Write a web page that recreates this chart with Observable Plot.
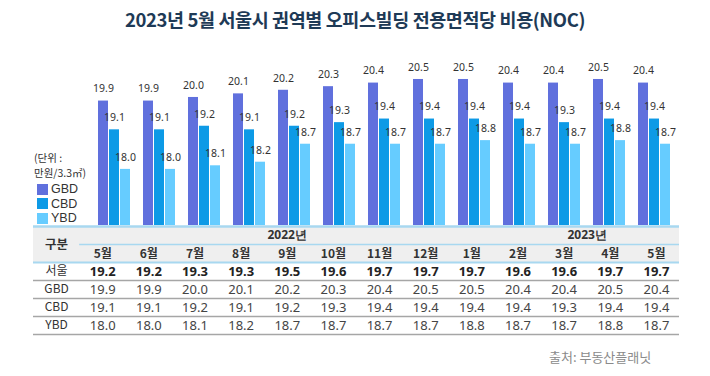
<!DOCTYPE html>
<html><head><meta charset="utf-8">
<script src="https://cdn.jsdelivr.net/npm/d3@7"></script>
<script src="https://cdn.jsdelivr.net/npm/@observablehq/plot@0.6"></script>
<style>
body{margin:0;background:#fff;font-family:"Noto Sans CJK KR","Noto Sans",sans-serif;}
#wrap{position:relative;width:710px;height:376px;overflow:hidden;background:#fff}
#title{position:absolute;left:0;top:6px;width:710px;text-align:center;font-weight:bold;font-size:18.5px;line-height:26px;color:#1e3a56;letter-spacing:-0.4px}
#chart{position:absolute;left:0;top:0}
#table{position:absolute;left:0;top:224px}
.unit{position:absolute;left:34px;font-size:10.5px;line-height:15px;color:#333;white-space:nowrap}
#legend{position:absolute;left:37px;top:182px}
.lg{display:flex;align-items:center;height:14.5px;line-height:14px;font-size:12.5px;color:#333;font-family:"Liberation Sans",Arial,sans-serif}
.sw{width:11px;height:11px;margin-right:3px}
#source{position:absolute;left:549px;top:348px;font-size:13px;line-height:18px;color:#8a8a8a}
svg{overflow:visible}
</style></head><body>
<div id="wrap">
  <div id="chart"></div>
  <div id="table"></div>
  <div id="title">2023년 5월 서울시 권역별 오피스빌딩 전용면적당 비용(NOC)</div>
  <div class="unit" style="top:150px">(단위 :</div>
  <div class="unit" style="top:165px">만원/3.3㎡)</div>
  <div id="legend"></div>
  <div id="source">출처: 부동산플래닛</div>
</div>
<script>
const months = ["5월","6월","7월","8월","9월","10월","11월","12월","1월","2월","3월","4월","5월"];
const monthKeys = ["2022-05","2022-06","2022-07","2022-08","2022-09","2022-10","2022-11","2022-12","2023-01","2023-02","2023-03","2023-04","2023-05"];
const yearLabels = ["2022년","2023년"];
const yearSpans = [[0,7],[8,12]];
const series = ["GBD","CBD","YBD"];
const colors = ["#6070dd","#0d9ae6","#66ccff"];
const seoul = [19.2,19.2,19.3,19.3,19.5,19.6,19.7,19.7,19.7,19.6,19.6,19.7,19.7];
const gbd = [19.9,19.9,20.0,20.1,20.2,20.3,20.4,20.5,20.5,20.4,20.4,20.5,20.4];
const cbd = [19.1,19.1,19.2,19.1,19.2,19.3,19.4,19.4,19.4,19.4,19.3,19.4,19.4];
const ybd = [18.0,18.0,18.1,18.2,18.7,18.7,18.7,18.7,18.8,18.7,18.7,18.8,18.7];
const rowLabels = ["서울","GBD","CBD","YBD"];
const yMin = 16.44, yMax = 21;

const seriesVals = [gbd, cbd, ybd];
const bars = monthKeys.flatMap((k, i) => series.map((s, j) => ({key: k, series: s, value: seriesVals[j][i]})));

const chart = Plot.plot({
  width: 710, height: 226,
  marginLeft: 92, marginRight: 33, marginTop: 61, marginBottom: 1,
  fx: {domain: monthKeys, paddingInner: 0.235, paddingOuter: 0, axis: null, label: null},
  x: {domain: series, padding: 0.05, axis: null},
  y: {domain: [yMin, yMax], axis: null},
  color: {domain: series, range: colors},
  style: {fontFamily: "'Noto Sans', sans-serif", background: "transparent"},
  marks: [
    Plot.rectY(bars, {fx: "key", x: "series", y1: () => yMin, y2: "value", fill: "series"}),
    Plot.text(bars, {fx: "key", x: "series", y: "value", text: d => d.value.toFixed(1), dy: -12, fontSize: 10.5, fill: "#333"})
  ]
});
document.getElementById("chart").appendChild(chart);

// legend
const lg = document.getElementById("legend");
series.forEach((s, j) => {
  const r = document.createElement("div"); r.className = "lg";
  const sw = document.createElement("div"); sw.className = "sw"; sw.style.background = colors[j];
  r.appendChild(sw); r.appendChild(document.createTextNode(s)); lg.appendChild(r);
});

// table
const tableVals = [seoul, gbd, cbd, ybd];
const cells = rowLabels.flatMap((r, ri) => months.map((m, i) => ({row: ri, col: i, text: tableVals[ri][i].toFixed(1), bold: ri === 0})));
const monthCells = months.map((m, i) => ({col: i, text: m}));
const yearCells = yearLabels.map((t, i) => ({text: t, x: (yearSpans[i][0] + 1 + yearSpans[i][1] + 2) / 2}));
const blue = "#a8d8f0", grey = "#a6a6a6";
const table = Plot.plot({
  width: 710, height: 120,
  marginLeft: 33, marginRight: 31, marginTop: 2, marginBottom: 10,
  x: {domain: [0, 14], axis: null},
  y: {domain: [0, 6], reverse: true, axis: null},
  style: {fontFamily: "'Noto Sans CJK KR', sans-serif", background: "transparent"},
  marks: [
    Plot.rect([{y1: 0, y2: 2}], {x1: 0, x2: 14, y1: "y1", y2: "y2", fill: "#efefef"}),
    Plot.ruleY([0], {stroke: blue, strokeWidth: 2.5}),
    Plot.ruleY([1], {x1: 1, x2: 14, stroke: blue, strokeWidth: 1.5}),
    Plot.ruleY([2], {stroke: blue, strokeWidth: 2}),
    Plot.ruleY([3, 4, 5, 6], {stroke: grey, strokeWidth: 1.5}),
    Plot.text(["구분"], {x: 0.5, y: 1, text: d => d, fontSize: 12.5, fontWeight: "bold", fill: "#333"}),
    Plot.text(yearCells, {x: "x", y: 0.5, text: "text", dx: 23, fontSize: 12, fontWeight: "bold", fill: "#333", fontFamily: "'Noto Sans', sans-serif"}),
    Plot.text(monthCells, {x: d => d.col + 1.5, y: 1.5, dy: 0.5, text: "text", fontSize: 12, fontWeight: "bold", fill: "#333"}),
    Plot.text(rowLabels, {x: 0.5, y: (d, i) => i + 2.5, text: d => d, fontSize: 12, fill: "#333"}),
    Plot.text(cells.filter(d => d.bold), {x: d => d.col + 1.5, y: d => d.row + 2.5, text: "text", fontSize: 13, fontWeight: "bold", fill: "#222", fontFamily: "'Noto Sans', sans-serif"}),
    Plot.text(cells.filter(d => !d.bold), {x: d => d.col + 1.5, y: d => d.row + 2.5, text: "text", fontSize: 13, fill: "#444", fontFamily: "'Noto Sans', sans-serif"})
  ]
});
document.getElementById("table").appendChild(table);
</script>
</body></html>
